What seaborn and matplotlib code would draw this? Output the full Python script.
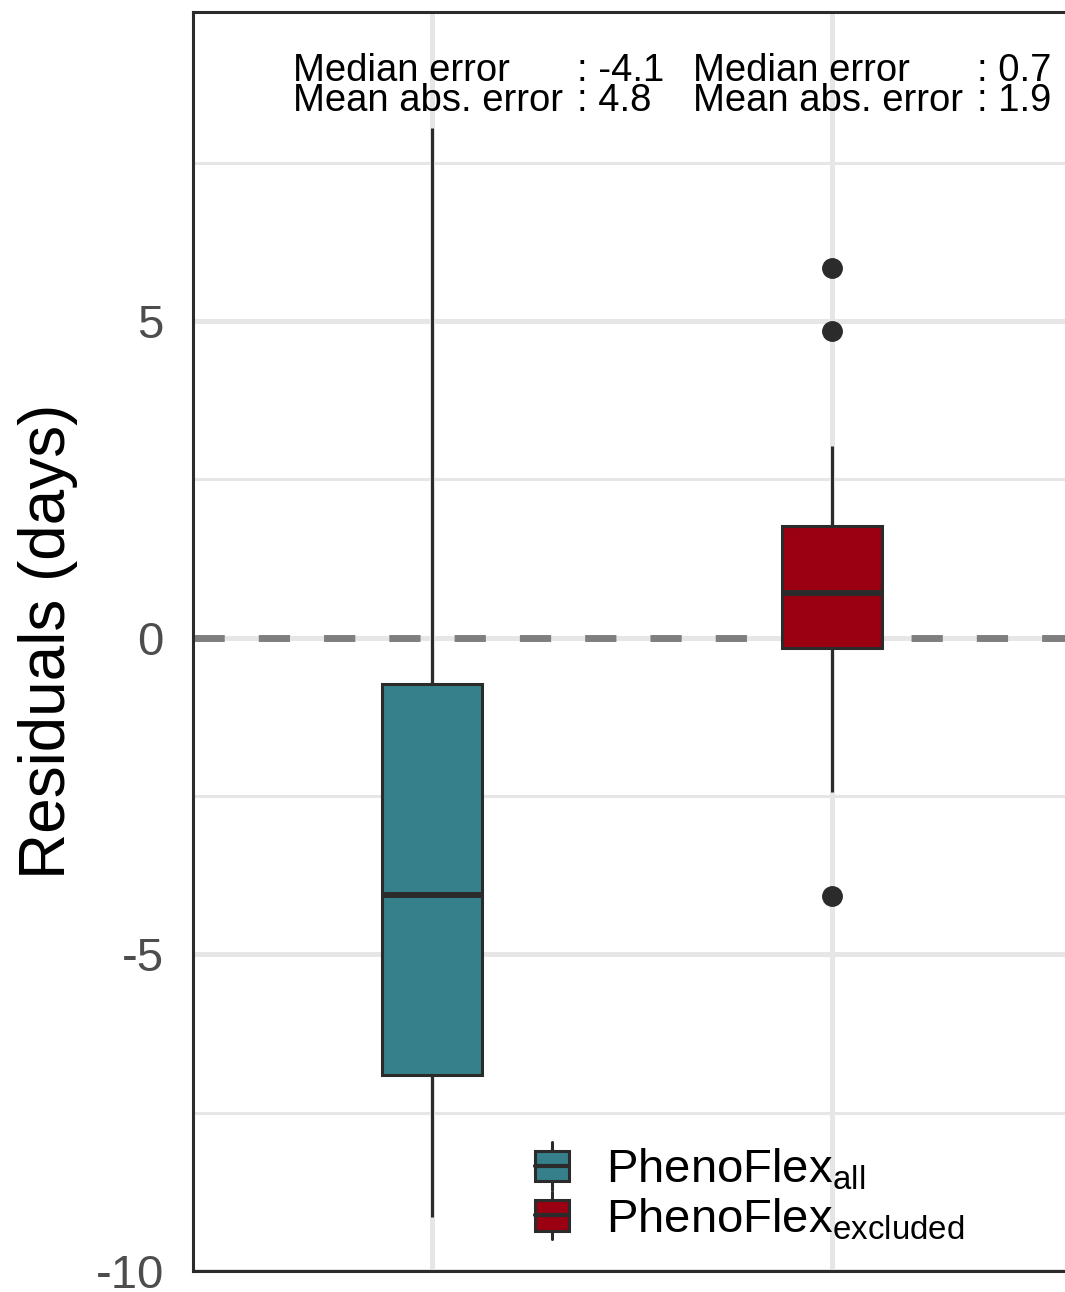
import numpy as np
import pandas as pd
import matplotlib
matplotlib.use('Agg')
import matplotlib.pyplot as plt
import seaborn as sns
from matplotlib.patches import Patch, Rectangle
from matplotlib.lines import Line2D
from matplotlib.legend_handler import HandlerBase
from matplotlib.ticker import MultipleLocator

# box summaries (days)
groups = ['PhenoFlex_all', 'PhenoFlex_excluded']
whisker_low = [-9.15, -2.44]
q1 = [-6.91, -0.16]
median = [-4.06, 0.71]
q3 = [-0.73, 1.76]
whisker_high = [8.05, 3.03]
outliers = [[], [-4.08, 4.84, 5.84]]

colors = ['#35808A', '#9A0012']
legend_labels = [r'PhenoFlex$_{\mathrm{all}}$', r'PhenoFlex$_{\mathrm{excluded}}$']

# stats text
med_err = ['-4.1', '0.7']
mae = ['4.8', '1.9']

# rebuild a sample per group that reproduces the read quartiles/whiskers
rows = []
for i, g in enumerate(groups):
    vals = list(outliers[i]) + [whisker_low[i], whisker_high[i]]
    vals += [q1[i]] * 10 + [median[i]] * 10 + [q3[i]] * 10
    for v in vals:
        rows.append((g, v))
df = pd.DataFrame(rows, columns=['model', 'resid'])

sns.set_style('white')
plt.rcParams['font.family'] = ['Liberation Sans', 'DejaVu Sans']
plt.rcParams['mathtext.fontset'] = 'custom'
plt.rcParams['mathtext.rm'] = 'Liberation Sans'
plt.rcParams['mathtext.it'] = 'Liberation Sans:italic'

fig = plt.figure(figsize=(10.65, 12.92), dpi=100)
ax = fig.add_axes([193/1065, 21/1292, 872/1065, 1259.5/1292])

line_c = '#2B2B2B'
grid_c = '#E6E6E6'

ax.axhline(0, color='#7F7F7F', lw=5, dashes=(4.5, 4.9), zorder=1.5)

sns.boxplot(data=df, x='model', y='resid', hue='model', palette=colors,
            order=groups, hue_order=groups, dodge=False, width=0.25,
            saturation=1, linecolor=line_c, linewidth=2.2, showcaps=False,
            legend=False,
            medianprops=dict(linewidth=4.3, color=line_c),
            flierprops=dict(marker='o', markersize=14, markerfacecolor=line_c,
                            markeredgecolor=line_c),
            ax=ax)

ax.set_xlim(-0.5975, 1.5825)
ax.set_ylim(-10, 9.887)
ax.yaxis.set_major_locator(MultipleLocator(5))
ax.yaxis.set_minor_locator(MultipleLocator(2.5))
ax.set_yticks([-10, -5, 0, 5])
ax.set_yticklabels(['-10', '-5', '0', '5'])

ax.set_axisbelow(True)
ax.grid(True, which='major', axis='both', color=grid_c, lw=3.6)
ax.grid(True, which='minor', axis='y', color=grid_c, lw=2.2)

ax.tick_params(axis='y', which='major', length=11, width=2.2, color='#333333',
               labelsize=34, labelcolor='#4D4D4D', pad=10)
ax.tick_params(axis='y', which='minor', length=0)
ax.tick_params(axis='x', length=0, labelbottom=False)
ax.set_xlabel('')
ax.set_ylabel('Residuals (days)', fontsize=46, color='black')
ax.yaxis.set_label_coords(-0.132, 0.5)

for side in ['left', 'bottom', 'top']:
    ax.spines[side].set_color(line_c)
    ax.spines[side].set_linewidth(2.2)
ax.spines['right'].set_visible(False)

# stats text above each box
for i in range(len(groups)):
    ax.text(i - 0.3475, 8.79, 'Median error', fontsize=27.5, va='baseline', color='black')
    ax.text(i + 0.3625, 8.79, ': ' + med_err[i], fontsize=27.5, va='baseline', color='black')
    ax.text(i - 0.3475, 8.31, 'Mean abs. error', fontsize=27.5, va='baseline', color='black')
    ax.text(i + 0.3625, 8.31, ': ' + mae[i], fontsize=27.5, va='baseline', color='black')


class BoxHandler(HandlerBase):
    def create_artists(self, legend, orig_handle, xdescent, ydescent,
                       width, height, fontsize, trans):
        x0, y0 = -xdescent, -ydescent
        fc = orig_handle.get_facecolor()
        ext = 6
        wl = Line2D([x0 + width/2, x0 + width/2], [y0 - ext, y0 + height + ext],
                    color=line_c, lw=2.2, transform=trans)
        box = Rectangle((x0, y0), width, height, facecolor=fc,
                        edgecolor=line_c, lw=2.2, transform=trans)
        med = Line2D([x0, x0 + width], [y0 + height/2, y0 + height/2],
                     color=line_c, lw=3, transform=trans)
        return [wl, box, med]


handles = [Patch(facecolor=c) for c in colors]
leg = ax.legend(handles, legend_labels, handler_map={Patch: BoxHandler()},
                loc='lower left', bbox_to_anchor=(0.392, 0.023), frameon=False,
                fontsize=34, handlelength=0.72, handleheight=0.62,
                handletextpad=0.78, labelspacing=0.08, borderpad=0, borderaxespad=0)
for t in leg.get_texts():
    t.set_color('black')

fig.savefig('out.png', dpi=100)
